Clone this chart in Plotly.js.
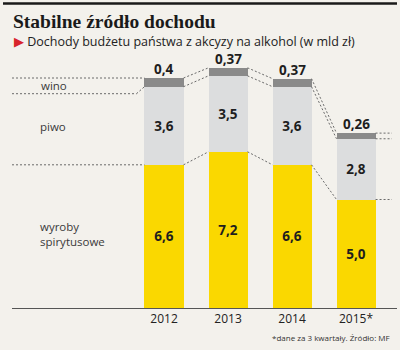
<!DOCTYPE html>
<html><head><meta charset="utf-8">
<script src="https://cdn.plot.ly/plotly-3.0.1.min.js"></script>
<style>html,body{margin:0;padding:0;background:#f3f1ec}#c{width:400px;height:350px}</style>
</head><body><div id="c"></div>
<script>
const years = ['2012','2013','2014','2015*'];
const spirits = [6.6, 7.2, 6.6, 5.0];
const beer = [3.6, 3.5, 3.6, 2.8];
const wine = [0.4, 0.37, 0.37, 0.26];
const seriesNames = ['wyroby<br>spirytusowe', 'piwo', 'wino'];

const fmt = v => { const d = Math.max(1, (String(v).split('.')[1] || '').length); return v.toFixed(d).replace('.', ','); };

const L = 12, R = 3, T = 60, B = 42, W = 400, H = 350;
const px = x => (x - L) / (W - L - R);
const py = y => ((H - B) - y) / (H - T - B);
const xRange = [-2.375, 3.64];
const bw = 0.61, hw = bw / 2;
const unit = (H - T - B) / 11.43;

const lvl1 = spirits;
const lvl2 = spirits.map((s, i) => s + beer[i]);
const lvl3 = lvl2.map((s, i) => s + wine[i]);

const common = {type: 'bar', x: years, width: bw, textposition: 'inside', insidetextanchor: 'middle',
  textangle: 0, constraintext: 'none', cliponaxis: false, hoverinfo: 'skip',
  textfont: {family: 'Open Sans', size: 13.5, color: '#1e1e1e', weight: 'bold'}};
const traces = [
  Object.assign({}, common, {y: spirits, name: seriesNames[0], text: spirits.map(fmt), marker: {color: '#fad800'}}),
  Object.assign({}, common, {y: beer, name: seriesNames[1], text: beer.map(fmt), marker: {color: '#dcddde'}}),
  Object.assign({}, common, {y: wine, name: seriesNames[2], text: wine.map(() => ''), marker: {color: '#8a8a8a'}})
];

const dash = {color: '#6a6a6a', width: 1, dash: '2px,2px'};
const shapes = [];
[lvl1, lvl2, lvl3].forEach(lv => {
  for (let i = 0; i < lv.length - 1; i++) {
    shapes.push({type: 'line', xref: 'x', yref: 'y', x0: i + hw, y0: lv[i], x1: i + 1 - hw, y1: lv[i + 1], line: dash});
  }
  const n = lv.length - 1;
  shapes.push({type: 'line', xref: 'x', yref: 'y', x0: n + hw, y0: lv[n], x1: 3.56, y1: lv[n], line: dash});
});
// left extensions
shapes.push({type: 'line', xref: 'x', yref: 'y', x0: xRange[0], y0: lvl3[0], x1: -hw, y1: lvl3[0], line: dash});
shapes.push({type: 'line', xref: 'x', yref: 'y', x0: xRange[0], y0: lvl1[0], x1: -hw, y1: lvl1[0], line: dash});
const dropY = lvl2[0] - 7 / unit;
shapes.push({type: 'line', xref: 'x', yref: 'y', x0: xRange[0], y0: dropY, x1: -0.43, y1: dropY, line: dash});
shapes.push({type: 'line', xref: 'x', yref: 'y', x0: -0.43, y0: dropY, x1: -hw, y1: lvl2[0], line: dash});
// top black rule
shapes.push({type: 'line', xref: 'paper', yref: 'paper', x0: px(3), x1: px(397), y0: py(3.5), y1: py(3.5), line: {color: '#1a1a1a', width: 2.5}});

const annotations = [];
years.forEach((y, i) => annotations.push({x: i, y: lvl3[i], xref: 'x', yref: 'y', text: fmt(wine[i]), showarrow: false,
  yanchor: 'bottom', yshift: -2, font: {family: 'Open Sans', size: 13.5, color: '#1e1e1e', weight: 'bold'}}));
const lab = {family: 'Open Sans', size: 11.5, color: '#3a3a3a'};
annotations.push({xref: 'paper', yref: 'paper', x: px(39), y: py(85), xanchor: 'left', yanchor: 'middle', text: seriesNames[2], showarrow: false, font: lab});
annotations.push({xref: 'paper', yref: 'paper', x: px(38), y: py(126), xanchor: 'left', yanchor: 'middle', text: seriesNames[1], showarrow: false, font: lab});
annotations.push({xref: 'paper', yref: 'paper', x: px(38), y: py(234), xanchor: 'left', yanchor: 'middle', align: 'left', text: seriesNames[0], showarrow: false, font: lab});
annotations.push({xref: 'paper', yref: 'paper', x: px(12), y: py(41.5), xanchor: 'left', yanchor: 'middle',
  text: '<span style="color:#d8242c">▶</span> Dochody budżetu państwa z akcyzy na alkohol (w mld zł)', showarrow: false,
  font: {family: 'Open Sans', size: 12.5, color: '#222'}});
annotations.push({xref: 'paper', yref: 'paper', x: px(392), y: py(337), xanchor: 'right', yanchor: 'middle',
  text: '*dane za 3 kwartały. Źródło: MF', showarrow: false, font: {family: 'Open Sans', size: 8, color: '#333'}});

const layout = {
  width: W, height: H, margin: {l: L, r: R, t: T, b: B},
  paper_bgcolor: '#f3f1ec', plot_bgcolor: 'rgba(0,0,0,0)',
  barmode: 'stack', showlegend: false,
  title: {text: 'Stabilne źródło dochodu', x: 13 / W, xanchor: 'left', xref: 'container', y: 1 - 21 / H, yanchor: 'middle',
    font: {family: 'Liberation Serif', size: 19.5, color: '#1a1a1a', weight: 'bold'}},
  xaxis: {type: 'category', categoryarray: years, range: xRange, showline: true, linecolor: '#555', linewidth: 1,
    showgrid: false, zeroline: false, ticks: '', tickfont: {family: 'Open Sans', size: 12, color: '#222'}, fixedrange: true},
  yaxis: {range: [0, 11.43], visible: false, fixedrange: true},
  shapes: shapes, annotations: annotations
};
Plotly.newPlot('c', traces, layout, {staticPlot: true});
</script></body></html>
